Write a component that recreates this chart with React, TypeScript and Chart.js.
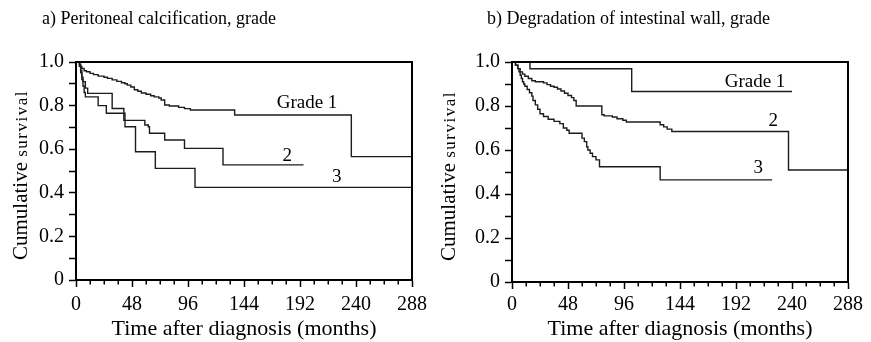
import React, { useEffect, useRef } from 'react';
import { Chart, registerables } from 'chart.js';

Chart.register(...registerables);

const FONT = "'Liberation Serif', 'Times New Roman', serif";

// ---------- axis ticks ----------
const xTickValues = [0, 48, 96, 144, 192, 240, 288];
const xTickLabels = ['0', '48', '96', '144', '192', '240', '288'];
const xMinorTickValues = [12, 24, 36, 60, 72, 84, 108, 120, 132, 156, 168, 180, 204, 216, 228, 252, 264, 276];
const yTickValues = [0, 0.1, 0.2, 0.3, 0.4, 0.5, 0.6, 0.7, 0.8, 0.9, 1.0];
const yTickLabels = ['0', '', '0.2', '', '0.4', '', '0.6', '', '0.8', '', '1.0'];

// ---------- a) Peritoneal calcification ----------
const aGrade1Months = [0, 3, 4, 5, 7, 9, 12, 15, 19, 24, 27, 31, 35, 39, 42, 44, 47, 50, 53, 56, 60, 64, 67, 71, 73, 76, 80, 88, 93, 98, 136, 236, 288];
const aGrade1Surv = [1, 0.99, 0.98, 0.97, 0.96, 0.955, 0.948, 0.942, 0.935, 0.93, 0.925, 0.918, 0.911, 0.905, 0.9, 0.894, 0.885, 0.873, 0.866, 0.858, 0.852, 0.845, 0.84, 0.835, 0.826, 0.803, 0.798, 0.792, 0.786, 0.78, 0.757, 0.566, 0.566];
const aGrade2Months = [0, 3, 4, 5, 6, 8, 10, 31, 41, 59, 62, 63, 76, 93, 126, 195];
const aGrade2Surv = [1, 0.98, 0.96, 0.93, 0.91, 0.88, 0.856, 0.787, 0.732, 0.711, 0.703, 0.673, 0.642, 0.604, 0.528, 0.528];
const aGrade3Months = [0, 3, 4, 5, 6, 7, 8, 19, 26, 42, 51, 68, 102, 288];
const aGrade3Surv = [1, 0.98, 0.95, 0.92, 0.89, 0.86, 0.84, 0.8, 0.765, 0.703, 0.588, 0.512, 0.425, 0.425];
const aLabelTexts = ['Grade 1', '2', '3'];
const aLabelMonths = [198, 181, 223.5];
const aLabelSurv = [0.811, 0.569, 0.474];

// ---------- b) Degradation of intestinal wall ----------
const bGrade1Months = [0, 15.4, 102.6, 240];
const bGrade1Surv = [1, 0.969, 0.866, 0.866];
const bGrade2Months = [0, 3, 5, 7, 9, 11, 14, 17, 20, 27, 30, 33, 36, 39, 42, 45, 48, 51, 53, 55, 77, 79, 86, 90, 95, 98, 127, 130, 133, 137, 237, 288];
const bGrade2Surv = [1, 0.985, 0.97, 0.955, 0.945, 0.935, 0.925, 0.915, 0.91, 0.905, 0.897, 0.89, 0.885, 0.877, 0.868, 0.858, 0.848, 0.838, 0.825, 0.8, 0.76, 0.755, 0.75, 0.742, 0.735, 0.727, 0.715, 0.705, 0.695, 0.684, 0.509, 0.509];
const bGrade3Months = [0, 3, 5, 6, 7, 8, 9, 10, 11, 13, 15, 17, 18, 20, 22, 24, 27, 31, 36, 41, 44, 47, 49, 60, 62, 64, 65, 67, 69, 72, 75, 127, 223];
const bGrade3Surv = [1, 0.985, 0.97, 0.955, 0.94, 0.925, 0.91, 0.9, 0.89, 0.875, 0.86, 0.845, 0.825, 0.805, 0.785, 0.765, 0.752, 0.74, 0.73, 0.72, 0.7, 0.69, 0.676, 0.654, 0.638, 0.615, 0.6, 0.585, 0.57, 0.555, 0.524, 0.464, 0.464];
const bLabelTexts = ['Grade 1', '2', '3'];
const bLabelMonths = [208.3, 224, 211];
const bLabelSurv = [0.909, 0.732, 0.517];

type Series = { months: number[]; surv: number[] };
type Panel = {
  title: string;
  series: Series[];
  labelTexts: string[];
  labelMonths: number[];
  labelSurv: number[];
  left: number;
  width: number;
  padTop: number;
  padRight: number;
  xAxisHeight: number;
  xTickPad: number;
  titleX: number;
  titleY: number;
  yTitleX: number;
  yTitleY: number;
};

const panelA: Panel = {
  title: 'a) Peritoneal calcification, grade',
  series: [
    { months: aGrade1Months, surv: aGrade1Surv },
    { months: aGrade2Months, surv: aGrade2Surv },
    { months: aGrade3Months, surv: aGrade3Surv },
  ],
  labelTexts: aLabelTexts,
  labelMonths: aLabelMonths,
  labelSurv: aLabelSurv,
  left: 0,
  width: 436,
  padTop: 62,
  padRight: 24,
  xAxisHeight: 62,
  xTickPad: 6,
  titleX: 42,
  titleY: 24,
  yTitleX: 27,
  yTitleY: 260,
};

const panelB: Panel = {
  title: 'b) Degradation of intestinal wall, grade',
  series: [
    { months: bGrade1Months, surv: bGrade1Surv },
    { months: bGrade2Months, surv: bGrade2Surv },
    { months: bGrade3Months, surv: bGrade3Surv },
  ],
  labelTexts: bLabelTexts,
  labelMonths: bLabelMonths,
  labelSurv: bLabelSurv,
  left: 436,
  width: 435,
  padTop: 62,
  padRight: 23,
  xAxisHeight: 60,
  xTickPad: 4,
  titleX: 51,
  titleY: 24,
  yTitleX: 19,
  yTitleY: 261,
};

function decorPlugin(p: Panel) {
  return {
    id: 'decor',
    afterDraw(chart: any) {
      const ctx = chart.ctx as CanvasRenderingContext2D;
      const { left, right, top, bottom } = chart.chartArea;
      const xs = chart.scales.x;
      const ys = chart.scales.y;
      ctx.save();
      // frame (top + right)
      ctx.strokeStyle = '#000';
      ctx.lineWidth = 2;
      ctx.beginPath();
      ctx.moveTo(left - 1, top);
      ctx.lineTo(right, top);
      ctx.lineTo(right, bottom + 1);
      ctx.stroke();
      // minor x ticks
      ctx.lineWidth = 1.5;
      ctx.beginPath();
      for (const v of xMinorTickValues) {
        const px = Math.round(xs.getPixelForValue(v)) + 0.25;
        ctx.moveTo(px, bottom);
        ctx.lineTo(px, bottom + 4.5);
      }
      ctx.stroke();
      // panel title
      ctx.fillStyle = '#000';
      ctx.font = `18px ${FONT}`;
      ctx.textAlign = 'left';
      ctx.textBaseline = 'alphabetic';
      ctx.fillText(p.title, p.titleX, p.titleY);
      // y axis title
      ctx.save();
      ctx.translate(p.yTitleX, p.yTitleY);
      ctx.rotate(-Math.PI / 2);
      ctx.font = `21px ${FONT}`;
      ctx.fillText('Cumulative', 0, 0);
      const w = ctx.measureText('Cumulative ').width;
      ctx.font = `17px ${FONT}`;
      (ctx as any).letterSpacing = '1.5px';
      ctx.fillText('survival', w, 0);
      (ctx as any).letterSpacing = '0px';
      ctx.restore();
      // curve labels
      ctx.font = `19px ${FONT}`;
      ctx.textAlign = 'center';
      ctx.textBaseline = 'middle';
      p.labelTexts.forEach((t, i) => {
        ctx.fillText(t, xs.getPixelForValue(p.labelMonths[i]), ys.getPixelForValue(p.labelSurv[i]));
      });
      ctx.restore();
    },
  };
}

function KMPanel({ p }: { p: Panel }) {
  const ref = useRef<HTMLCanvasElement | null>(null);
  useEffect(() => {
    if (!ref.current) return;
    const chart = new Chart(ref.current, {
      type: 'line',
      data: {
        datasets: p.series.map((s) => ({
          data: s.months.map((m, i) => ({ x: m, y: s.surv[i] })),
          stepped: 'before' as const,
          borderColor: '#1c1c1c',
          borderWidth: 1.4,
          pointRadius: 0,
          fill: false,
          tension: 0,
        })),
      },
      options: {
        responsive: false,
        animation: false,
        maintainAspectRatio: false,
        layout: { padding: { left: 0, right: p.padRight, top: p.padTop, bottom: 0 } },
        plugins: {
          legend: { display: false },
          tooltip: { enabled: false },
          title: { display: false },
        },
        scales: {
          x: {
            type: 'linear',
            min: 0,
            max: 288,
            afterBuildTicks: (s: any) => {
              s.ticks = xTickValues.map((v) => ({ value: v }));
            },
            afterFit: (s: any) => {
              s.height = p.xAxisHeight;
            },
            ticks: {
              autoSkip: false,
              maxRotation: 0,
              padding: p.xTickPad,
              color: '#000',
              font: { size: 20, family: FONT },
              callback: (_v: any, i: number) => xTickLabels[i],
            },
            grid: { drawOnChartArea: false, drawTicks: true, tickLength: 7, tickWidth: 1.5, tickColor: '#000' },
            border: { display: true, color: '#000', width: 2 },
            title: {
              display: true,
              text: 'Time after diagnosis (months)',
              color: '#000',
              font: { size: 22, family: FONT },
              padding: { top: 0, bottom: 0 },
            },
          },
          y: {
            type: 'linear',
            min: 0,
            max: 1,
            afterBuildTicks: (s: any) => {
              s.ticks = yTickValues.map((v) => ({ value: v }));
            },
            afterFit: (s: any) => {
              s.width = 76;
            },
            ticks: {
              autoSkip: false,
              padding: 5,
              color: '#000',
              font: { size: 20, family: FONT },
              callback: (_v: any, i: number) => yTickLabels[i],
            },
            grid: { drawOnChartArea: false, drawTicks: true, tickLength: 7, tickWidth: 1.5, tickColor: '#000' },
            border: { display: true, color: '#000', width: 2 },
          },
        },
      } as any,
      plugins: [decorPlugin(p)],
    });
    return () => chart.destroy();
  }, [p]);
  return (
    <canvas
      ref={ref}
      width={p.width}
      height={342}
      style={{ position: 'absolute', left: p.left, top: 0, width: p.width, height: 342 }}
    />
  );
}

export default function App() {
  return (
    <div style={{ position: 'absolute', left: 0, top: 0, width: 871, height: 342, background: '#fff' }}>
      <KMPanel p={panelA} />
      <KMPanel p={panelB} />
    </div>
  );
}
